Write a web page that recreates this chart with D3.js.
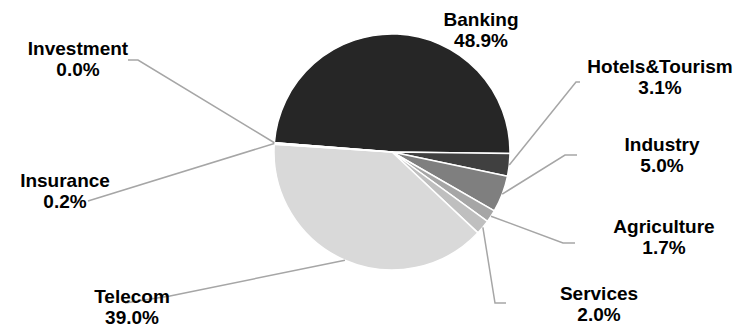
<!DOCTYPE html>
<html>
<head>
<meta charset="utf-8">
<script src="https://cdn.jsdelivr.net/npm/d3@7"></script>
<style>
  html, body { margin: 0; padding: 0; background: #fff; }
  text { font-family: "Liberation Sans", Arial, sans-serif; font-weight: bold; font-size: 19px; fill: #000; }
</style>
</head>
<body>
<div id="chart"><svg></svg></div>
<script>
const categories = ["Banking", "Hotels&Tourism", "Industry", "Agriculture", "Services", "Telecom", "Insurance", "Investment"];
const shares = [48.9, 3.1, 5.0, 1.7, 2.0, 39.0, 0.2, 0.0];
const shareLabels = ["48.9%", "3.1%", "5.0%", "1.7%", "2.0%", "39.0%", "0.2%", "0.0%"];

const width = 740;
const height = 327;
const cx = 392, cy = 152, radius = 118;
const startDeg = -85.5;

// label placement: first baseline + leader line bends (null = no leader line)
const labelLayout = {
	"Banking":        {x: 481, y: 26,  bends: null},
	"Hotels&Tourism": {x: 660, y: 73,  bends: [[576, 82], [580, 82]]},
	"Industry":       {x: 662, y: 151, bends: [[565, 155], [577, 155]]},
	"Agriculture":    {x: 664, y: 233, bends: [[563, 243], [575, 243]]},
	"Services":       {x: 599, y: 300, bends: [[495, 303], [506, 303]]},
	"Telecom":        {x: 132, y: 302.5, bends: [[170, 296], [125, 303]]},
	"Insurance":      {x: 65,  y: 187, bends: [[88, 201]]},
	"Investment":     {x: 78,  y: 55,  bends: [[138, 60], [128, 60]]}
};

const colors = d3.scaleOrdinal()
	.domain(categories)
	.range(["#262626", "#404040", "#7f7f7f", "#a6a6a6", "#bfbfbf", "#d9d9d9", "#f2f2f2", "#ffffff"]);

let dataset = categories.map((c, i) => ({name: c, value: shares[i], label: shareLabels[i]}));

let svg = d3.select("#chart").select("svg")
	.attr("width", width)
	.attr("height", height);

let startA = startDeg * Math.PI / 180;
let pie = d3.pie()
	.sort(null)
	.value(d => d.value)
	.startAngle(startA)
	.endAngle(startA + 2 * Math.PI);

let arc = d3.arc().innerRadius(0).outerRadius(radius);
let edge = d3.arc().innerRadius(radius).outerRadius(radius);

let arcs = pie(dataset);

let g = svg.append("g").attr("transform", `translate(${cx},${cy})`);

g.selectAll("path.slice")
	.data(arcs)
	.enter()
	.append("path")
	.attr("class", "slice")
	.attr("d", arc)
	.attr("fill", d => colors(d.data.name))
	.attr("stroke", "#fff")
	.attr("stroke-width", 1.5)
	.attr("stroke-linejoin", "round");

// leader lines
let line = d3.line();
svg.selectAll("path.leader")
	.data(arcs.filter(d => labelLayout[d.data.name].bends))
	.enter()
	.append("path")
	.attr("class", "leader")
	.attr("fill", "none")
	.attr("stroke", "#a6a6a6")
	.attr("stroke-width", 1.5)
	.attr("d", d => {
		let c = edge.centroid(d);
		let pts = [[cx + c[0], cy + c[1]]].concat(labelLayout[d.data.name].bends);
		return line(pts);
	});

let labels = svg.selectAll("text.lbl")
	.data(arcs)
	.enter()
	.append("text")
	.attr("class", "lbl")
	.attr("text-anchor", "middle")
	.attr("transform", d => `translate(${labelLayout[d.data.name].x},${labelLayout[d.data.name].y})`);

labels.append("tspan").attr("x", 0).attr("y", 0).text(d => d.data.name);
labels.append("tspan").attr("x", 0).attr("y", 21).text(d => d.data.label);
</script>
</body>
</html>
